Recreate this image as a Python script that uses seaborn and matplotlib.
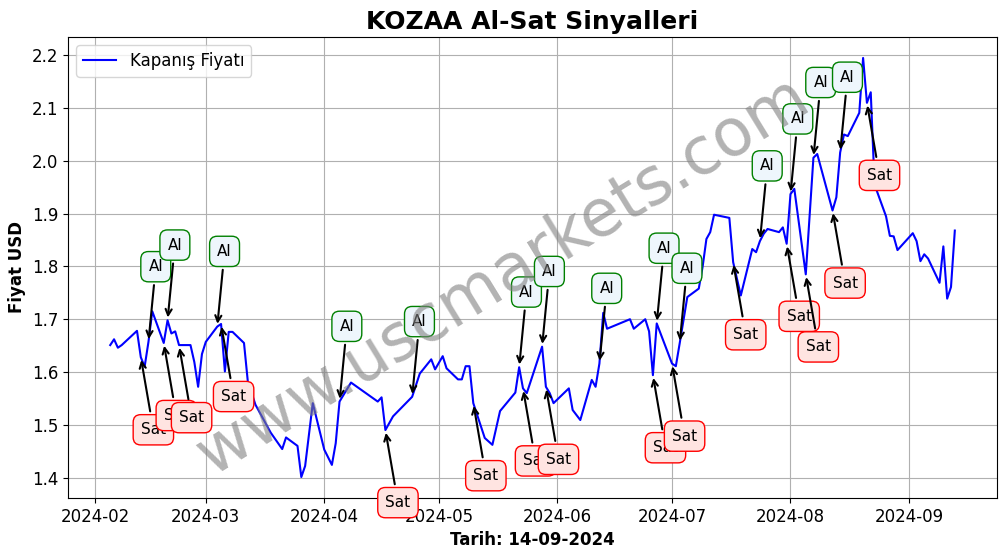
import matplotlib
matplotlib.use('Agg')
import matplotlib.pyplot as plt
import matplotlib.dates as mdates
import seaborn as sns
import pandas as pd

# ---- data ----
dates = [
    '2024-02-05', '2024-02-06', '2024-02-07', '2024-02-08', '2024-02-12', '2024-02-13',
    '2024-02-14', '2024-02-15', '2024-02-16', '2024-02-19', '2024-02-20', '2024-02-21',
    '2024-02-22', '2024-02-23', '2024-02-26', '2024-02-27', '2024-02-28', '2024-02-29',
    '2024-03-01', '2024-03-04', '2024-03-05', '2024-03-06', '2024-03-07', '2024-03-08',
    '2024-03-11', '2024-03-12', '2024-03-14', '2024-03-18', '2024-03-21', '2024-03-22',
    '2024-03-25', '2024-03-26', '2024-03-27', '2024-03-29', '2024-04-01', '2024-04-03',
    '2024-04-04', '2024-04-05', '2024-04-08', '2024-04-15', '2024-04-16', '2024-04-17',
    '2024-04-19', '2024-04-24', '2024-04-26', '2024-04-29', '2024-04-30', '2024-05-02',
    '2024-05-03', '2024-05-06', '2024-05-07', '2024-05-08', '2024-05-09', '2024-05-10',
    '2024-05-13', '2024-05-15', '2024-05-17', '2024-05-21', '2024-05-22', '2024-05-23',
    '2024-05-24', '2024-05-27', '2024-05-28', '2024-05-29', '2024-05-30', '2024-05-31',
    '2024-06-04', '2024-06-05', '2024-06-07', '2024-06-10', '2024-06-11', '2024-06-12',
    '2024-06-13', '2024-06-14', '2024-06-20', '2024-06-21', '2024-06-24', '2024-06-25',
    '2024-06-26', '2024-06-27', '2024-07-01', '2024-07-02', '2024-07-03', '2024-07-05',
    '2024-07-08', '2024-07-09', '2024-07-10', '2024-07-11', '2024-07-12', '2024-07-16',
    '2024-07-17', '2024-07-19', '2024-07-22', '2024-07-23', '2024-07-24', '2024-07-25',
    '2024-07-26', '2024-07-29', '2024-07-30', '2024-07-31', '2024-08-01', '2024-08-02',
    '2024-08-05', '2024-08-07', '2024-08-08', '2024-08-12', '2024-08-13', '2024-08-14',
    '2024-08-15', '2024-08-16', '2024-08-19', '2024-08-20', '2024-08-21', '2024-08-22',
    '2024-08-23', '2024-08-26', '2024-08-27', '2024-08-28', '2024-08-29', '2024-09-02',
    '2024-09-03', '2024-09-04', '2024-09-05', '2024-09-06', '2024-09-09', '2024-09-10',
    '2024-09-11', '2024-09-12', '2024-09-13',
]
prices = [
    1.651, 1.662, 1.646, 1.651, 1.678, 1.628,
    1.610, 1.657, 1.715, 1.655, 1.698, 1.673,
    1.677, 1.651, 1.651, 1.619, 1.572, 1.634,
    1.657, 1.686, 1.691, 1.601, 1.676, 1.676,
    1.655, 1.582, 1.538, 1.485, 1.454, 1.476,
    1.460, 1.401, 1.422, 1.541, 1.453, 1.424,
    1.465, 1.544, 1.580, 1.544, 1.552, 1.490,
    1.516, 1.553, 1.597, 1.624, 1.605, 1.630,
    1.607, 1.586, 1.586, 1.611, 1.611, 1.541,
    1.475, 1.462, 1.526, 1.561, 1.609, 1.569,
    1.560, 1.626, 1.648, 1.572, 1.560, 1.541,
    1.569, 1.528, 1.509, 1.585, 1.572, 1.616,
    1.712, 1.682, 1.700, 1.682, 1.700, 1.677,
    1.594, 1.692, 1.616, 1.611, 1.654, 1.742,
    1.758, 1.799, 1.852, 1.865, 1.898, 1.892,
    1.808, 1.745, 1.833, 1.827, 1.848, 1.862,
    1.871, 1.865, 1.874, 1.843, 1.937, 1.947,
    1.785, 2.006, 2.013, 1.906, 1.931, 2.016,
    2.050, 2.047, 2.091, 2.195, 2.110, 2.130,
    1.955, 1.895, 1.858, 1.857, 1.831, 1.863,
    1.848, 1.810, 1.823, 1.815, 1.769, 1.838,
    1.739, 1.761, 1.868,
]
buy_dates = ['2024-02-15', '2024-02-20', '2024-03-04', '2024-04-05', '2024-04-24',
             '2024-05-22', '2024-05-28', '2024-06-12', '2024-06-27', '2024-07-03',
             '2024-07-24', '2024-08-01', '2024-08-07', '2024-08-14']
sell_dates = ['2024-02-13', '2024-02-19', '2024-02-23', '2024-03-05', '2024-04-17',
              '2024-05-10', '2024-05-23', '2024-05-29', '2024-06-26', '2024-07-01',
              '2024-07-17', '2024-07-31', '2024-08-05', '2024-08-12', '2024-08-21']

title = 'KOZAA Al-Sat Sinyalleri'
x_label = 'Tarih: 14-09-2024'
y_label = 'Fiyat USD'
legend_label = 'Kapanış Fiyatı'
watermark = 'www.uscmarkets.com'

df = pd.DataFrame({'Tarih': pd.to_datetime(dates), 'Fiyat': prices})
series = df.set_index('Tarih')['Fiyat']

fig = plt.figure(figsize=(10.06, 5.54), dpi=100)
ax = fig.add_axes([0.0676, 0.1011, 0.9235, 0.8321])

sns.lineplot(data=df, x='Tarih', y='Fiyat', color='blue', linewidth=1.5,
             label=legend_label, ax=ax)

arrow = dict(arrowstyle='->', color='black', lw=1.5)
buy_offset = 0.134
sell_offset = 0.146
for d in buy_dates:
    t = pd.Timestamp(d)
    p = series[t]
    xn = mdates.date2num(t)
    ax.annotate('Al', xy=(xn, p), xytext=(xn, p + buy_offset), fontsize=11,
                arrowprops=arrow,
                bbox=dict(boxstyle='round,pad=0.5', fc='#eef6fc', ec='green', lw=1))
for d in sell_dates:
    t = pd.Timestamp(d)
    p = series[t]
    xn = mdates.date2num(t)
    ax.annotate('Sat', xy=(xn, p), xytext=(xn, p - sell_offset), fontsize=11,
                arrowprops=arrow,
                bbox=dict(boxstyle='round,pad=0.5', fc='#ffe4e1', ec='red', lw=1))

ax.set_title(title, fontsize=18, fontweight='bold')
ax.set_xlabel(x_label, fontsize=12, fontweight='bold')
ax.set_ylabel(y_label, fontsize=12, fontweight='bold')
ax.tick_params(labelsize=12)
ax.grid(True)
ax.legend(loc='upper left', fontsize=12)

fig.text(0.5, 0.5, watermark, fontsize=46.5, color='gray', alpha=0.6,
         rotation=31.5, ha='center', va='center', zorder=10)

fig.savefig('out.png', dpi=100)
